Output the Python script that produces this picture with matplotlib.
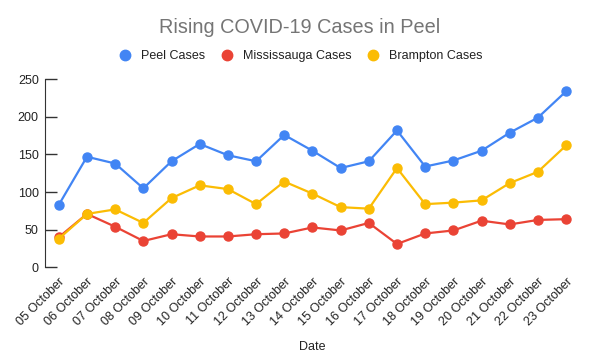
import matplotlib
matplotlib.use("Agg")
import matplotlib.pyplot as plt
from matplotlib.lines import Line2D

plt.rcParams["font.family"] = ["Liberation Sans", "DejaVu Sans"]

dates = ["05 October", "06 October", "07 October", "08 October", "09 October",
         "10 October", "11 October", "12 October", "13 October", "14 October",
         "15 October", "16 October", "17 October", "18 October", "19 October",
         "20 October", "21 October", "22 October", "23 October"]
peel = [83, 147, 138, 105, 141, 164, 149, 141, 176, 155, 132, 141, 182, 134, 142, 155, 179, 199, 234]
mississauga = [40, 71, 54, 35, 44, 41, 41, 44, 45, 53, 49, 59, 31, 45, 49, 62, 57, 63, 64]
brampton = [38, 71, 77, 59, 92, 109, 104, 84, 114, 98, 80, 78, 132, 84, 86, 89, 112, 127, 162]

series = [
    ("Peel Cases", peel, "#4285F4"),
    ("Mississauga Cases", mississauga, "#EA4335"),
    ("Brampton Cases", brampton, "#FBBC04"),
]

fig = plt.figure(figsize=(5.99, 3.63), dpi=100)
ax = fig.add_axes([0.0746, 0.2636, 0.894, 0.518])

x = list(range(len(dates)))
for name, vals, color in series:
    ax.plot(x, vals, color=color, linewidth=1.6, marker="o", markersize=6.5, label=name)

ax.set_xlim(-0.5, len(dates) - 0.5)
ax.set_ylim(0, 250)
ax.set_yticks([0, 50, 100, 150, 200, 250])
ax.set_xticks(x)
ax.set_xticklabels(dates, rotation=45, ha="right", rotation_mode="anchor")

for side in ["top", "right", "bottom"]:
    ax.spines[side].set_visible(False)
ax.spines["left"].set_color("#333333")
ax.tick_params(axis="y", direction="in", length=8.6, width=1, color="#333333",
               labelsize=9, labelcolor="#222222", pad=4.3)
ax.tick_params(axis="x", length=0, labelsize=9, labelcolor="#222222", pad=6)

ax.set_xlabel("Date", fontsize=9, color="#222222", labelpad=9)

fig.text(0.5, 0.925, "Rising COVID-19 Cases in Peel", ha="center", va="center",
         fontsize=14.3, color="#757575")

# legend sits between title and plot, markers only
handles = [Line2D([], [], color=c, marker="o", linestyle="none", markersize=7.5) for _, _, c in series]
fig.legend(handles, [n for n, _, _ in series], loc="center", bbox_to_anchor=(0.502, 0.846),
           ncol=3, frameon=False, fontsize=9, handlelength=1.0, handletextpad=0.75,
           columnspacing=1.26, labelcolor="#222222")

fig.savefig("out.png", dpi=100)
